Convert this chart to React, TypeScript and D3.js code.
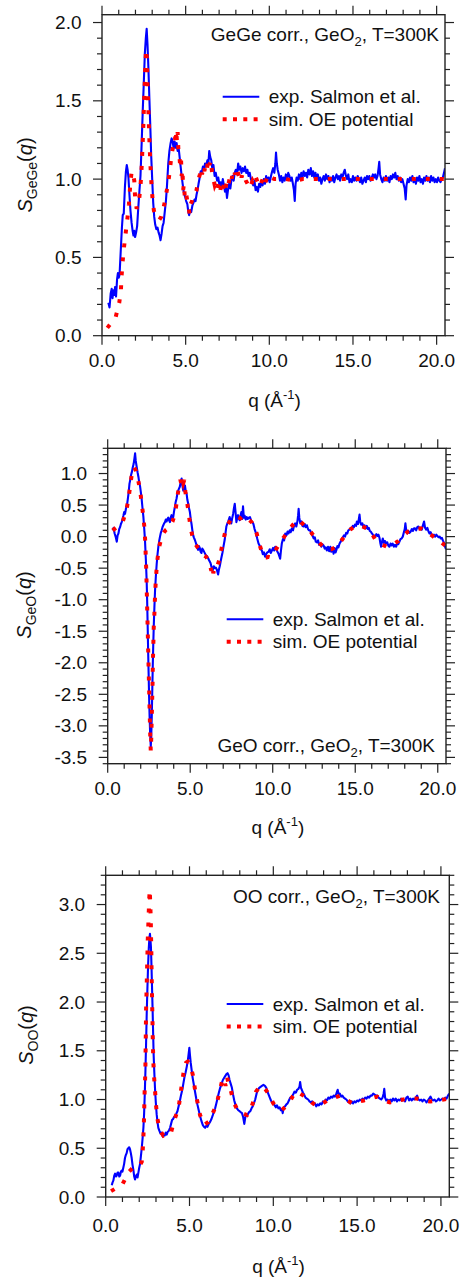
import React from 'react';
import * as d3 from 'd3';

// ---- data ----
const geGeExp = [
  [0.38,0.21],[0.45,0.18],[0.52,0.27],[0.58,0.30],[0.63,0.24],[0.68,0.29],[0.74,0.26],[0.78,0.31],[0.84,0.25],[0.9,0.36],
  [0.95,0.40],[1.0,0.37],[1.05,0.39],[1.11,0.52],[1.19,0.69],[1.24,0.77],[1.3,0.78],[1.37,0.95],[1.43,1.05],[1.48,1.09],
  [1.53,1.06],[1.58,1.01],[1.64,0.90],[1.7,0.80],[1.77,0.72],[1.83,0.67],[1.88,0.64],[1.93,0.67],[1.98,0.63],[2.04,0.66],
  [2.1,0.70],[2.17,0.82],[2.24,0.93],[2.3,1.02],[2.37,1.23],[2.44,1.45],[2.5,1.62],[2.56,1.80],[2.62,1.90],[2.67,1.96],
  [2.72,1.86],[2.77,1.72],[2.83,1.52],[2.88,1.36],[2.94,1.15],[3.0,1.00],[3.06,0.85],[3.12,0.76],[3.18,0.71],[3.25,0.68],
  [3.32,0.69],[3.38,0.66],[3.44,0.64],[3.5,0.61],[3.56,0.65],[3.62,0.70],[3.68,0.72],[3.76,0.80],[3.82,0.86],[3.88,0.95],
  [3.96,1.10],[4.03,1.18],[4.1,1.23],[4.16,1.26],[4.22,1.24],[4.28,1.20],[4.34,1.24],[4.4,1.20],[4.46,1.23],[4.52,1.18],
  [4.58,1.20],[4.64,1.14],[4.7,1.08],[4.76,1.02],[4.82,0.97],[4.88,0.92],[4.96,0.89],[5.03,0.86],[5.1,0.84],[5.16,0.79],
  [5.21,0.77],[5.27,0.80],[5.33,0.79],[5.4,0.83],[5.47,0.85],[5.53,0.87],[5.59,0.86],[5.65,0.90],[5.71,0.93],[5.77,0.97],
  [5.84,1.01],[5.9,1.05],[5.96,1.04],[6.03,1.08],[6.09,1.06],[6.16,1.10],[6.22,1.08],[6.3,1.12],[6.36,1.10],[6.41,1.18],
  [6.47,1.14],[6.53,1.12],[6.6,1.06],[6.66,1.09],[6.73,1.02],[6.8,1.04],[6.88,0.99],[6.95,1.01],[7.02,0.96],[7.09,0.98],
  [7.16,0.95],[7.22,1.00],[7.29,0.96],[7.35,0.92],[7.41,0.95],[7.47,0.88],[7.53,0.93],[7.6,0.97],[7.67,0.94],[7.74,1.00],
  [7.8,1.02],[7.87,0.99],[7.93,1.04],[8.0,1.06],[8.07,1.03],[8.14,1.10],[8.2,1.06],[8.27,1.08],[8.34,1.04],[8.41,1.07],
  [8.48,1.05],[8.55,1.08],[8.62,1.04],[8.69,1.06],[8.76,1.02],[8.83,1.04],[8.9,1.00],[8.97,0.98],[9.04,0.96],[9.11,0.99],
  [9.18,0.93],[9.25,0.95],[9.32,0.92],[9.39,0.97],[9.46,0.95],[9.53,0.99],[9.6,0.96],[9.67,1.00],[9.74,0.97],[9.81,1.02],
  [9.88,0.99],[9.95,1.01],[10.02,0.98],[10.1,1.02],[10.17,1.05],[10.23,1.07],[10.3,1.04],[10.36,1.10],[10.4,1.17],[10.45,1.10],
  [10.5,1.06],[10.57,1.03],[10.64,0.99],[10.71,1.02],[10.78,0.98],[10.85,1.01],[10.92,0.99],[10.99,1.03],[11.06,1.00],[11.13,1.04],
  [11.2,1.02],[11.27,0.99],[11.34,1.01],[11.41,0.97],[11.47,0.93],[11.52,0.86],[11.57,0.97],[11.63,1.01],[11.7,0.99],[11.77,1.03],
  [11.84,1.00],[11.91,1.04],[11.98,1.01],[12.05,1.05],[12.12,1.02],[12.19,1.04],[12.26,1.01],[12.33,1.06],[12.41,1.03],[12.48,1.07],
  [12.55,1.02],[12.62,1.05],[12.69,1.01],[12.76,1.04],[12.83,1.00],[12.9,1.03],[12.97,0.99],[13.04,1.01],[13.11,0.97],[13.18,1.00],
  [13.25,1.02],[13.32,0.99],[13.39,1.03],[13.46,1.00],[13.53,1.02],[13.6,0.98],[13.67,1.01],[13.74,0.99],[13.81,1.02],[13.88,0.98],
  [13.95,1.01],[14.02,1.03],[14.09,1.00],[14.16,1.02],[14.23,0.99],[14.3,1.03],[14.37,1.01],[14.44,1.04],[14.51,1.06],[14.58,1.02],
  [14.65,1.00],[14.72,1.03],[14.79,0.98],[14.86,1.00],[14.93,0.98],[15.0,1.02],[15.07,0.99],[15.14,1.01],[15.21,0.99],[15.28,1.02],
  [15.35,1.00],[15.42,0.98],[15.49,1.01],[15.56,0.97],[15.63,0.99],[15.7,1.01],[15.77,0.98],[15.84,1.02],[15.91,1.00],[15.98,1.02],
  [16.05,0.99],[16.12,1.01],[16.19,1.03],[16.26,1.01],[16.33,1.03],[16.4,1.00],[16.47,1.02],[16.53,1.07],[16.57,1.11],[16.62,1.03],
  [16.69,1.00],[16.76,0.98],[16.83,1.01],[16.9,0.99],[16.97,1.02],[17.04,0.99],[17.11,1.01],[17.18,0.98],[17.25,1.02],[17.32,1.00],
  [17.39,1.03],[17.46,1.01],[17.53,1.04],[17.6,1.00],[17.67,1.02],[17.74,0.99],[17.81,1.01],[17.88,0.98],[17.95,1.00],[18.02,0.97],
  [18.09,0.94],[18.15,0.87],[18.2,0.96],[18.27,1.00],[18.34,0.98],[18.41,1.01],[18.48,0.99],[18.55,1.02],[18.62,0.98],[18.69,1.00],
  [18.76,0.97],[18.83,1.01],[18.9,0.99],[18.97,1.02],[19.04,0.98],[19.11,1.00],[19.18,0.97],[19.25,1.01],[19.32,0.99],[19.39,1.02],
  [19.46,0.99],[19.53,1.01],[19.6,0.98],[19.67,1.02],[19.74,0.99],[19.81,1.01],[19.88,0.98],[19.95,1.00],[20.02,0.98],[20.09,1.01],
  [20.16,0.99],[20.23,0.98],[20.3,1.00],[20.37,1.01],[20.44,1.04],[20.5,1.07]
];
const geGeSim = [
  [0.32,0.05],[0.82,0.12],[1.03,0.21],[1.13,0.29],[1.17,0.38],[1.23,0.47],[1.31,0.56],[1.41,0.65],[1.51,0.74],[1.61,0.84],
  [1.68,0.95],[1.77,1.05],[1.85,1.03],[1.93,0.99],[1.97,0.90],[2.07,0.81],[2.16,0.84],[2.23,0.88],[2.31,0.97],[2.37,1.08],
  [2.42,1.20],[2.47,1.34],[2.51,1.48],[2.55,1.60],[2.59,1.72],[2.63,1.83],[2.67,1.80],[2.7,1.70],[2.73,1.58],[2.77,1.45],
  [2.81,1.32],[2.85,1.20],[2.9,1.08],[2.96,0.96],[3.03,0.86],[3.1,0.80],[3.2,0.76],[3.3,0.75],[3.42,0.74],[3.55,0.76],
  [3.65,0.80],[3.76,0.86],[3.86,0.92],[3.96,0.98],[4.05,1.05],[4.12,1.12],[4.2,1.18],[4.28,1.22],[4.36,1.27],[4.4,1.22],
  [4.44,1.31],[4.48,1.24],[4.52,1.30],[4.56,1.20],[4.62,1.16],[4.66,1.10],[4.72,1.14],[4.76,1.02],[4.81,1.06],[4.85,0.93],
  [4.9,0.97],[4.95,0.88],[5.02,0.91],[5.1,0.86],[5.18,0.82],[5.23,0.78],[5.3,0.84],[5.38,0.86],[5.45,0.90],[5.55,0.91],
  [5.65,0.93],[5.75,0.99],[5.85,1.03],[5.92,1.07],[5.98,1.03],[6.05,1.08],[6.12,1.05],[6.2,1.10],[6.28,1.07],[6.35,1.13],
  [6.42,1.09],[6.5,1.12],[6.58,1.04],[6.66,1.00],[6.74,0.96],[6.82,0.98],[6.9,0.94],[6.98,0.97],[7.06,0.92],[7.14,0.97],
  [7.22,0.93],[7.3,0.98],[7.38,0.94],[7.46,0.99],[7.54,0.96],[7.62,1.00],[7.7,0.97],[7.78,1.02],[7.86,0.99],[7.94,1.04],
  [8.02,1.01],[8.1,1.05],[8.18,1.02],[8.26,1.05],[8.34,1.01],[8.42,1.04],[8.5,1.02],[8.6,0.99],[8.7,0.97],[8.8,0.99],
  [8.9,0.96],[9.0,0.99],[9.1,0.97],[9.2,1.01],[9.3,0.98],[9.4,1.00],[9.5,0.97],[9.6,1.00],[9.7,0.96],[9.8,0.99],
  [9.9,1.02],[10.0,1.00],[10.1,1.01],[10.3,1.00],[10.6,1.00],[11.0,1.00],[11.5,0.99],[12.0,1.00],[12.5,1.00],[13.0,1.00],
  [13.5,1.00],[14.0,1.00],[14.5,1.00],[15.0,1.00],[15.5,1.00],[16.0,1.00],[16.5,1.00],[17.0,1.00],[17.5,1.00],[18.0,1.00],
  [18.5,1.00],[19.0,1.00],[19.5,1.00],[20.0,1.00],[20.5,1.00]
];
const geOExp = [
  [0.30,0.10],[0.36,0.14],[0.42,0.05],[0.48,0.00],[0.55,-0.08],[0.6,0.02],[0.65,0.05],[0.7,0.12],[0.75,0.15],[0.8,0.20],
  [0.85,0.23],[0.9,0.28],[0.95,0.33],[1.0,0.39],[1.05,0.36],[1.11,0.45],[1.17,0.50],[1.22,0.60],[1.27,0.70],[1.32,0.84],
  [1.37,0.90],[1.42,0.98],[1.47,1.03],[1.52,1.10],[1.57,1.15],[1.62,1.24],[1.66,1.32],[1.7,1.20],[1.76,1.10],[1.81,1.02],
  [1.86,0.95],[1.91,0.86],[1.96,0.80],[2.01,0.70],[2.06,0.59],[2.11,0.45],[2.16,0.32],[2.21,0.14],[2.26,-0.06],[2.31,-0.35],
  [2.36,-0.69],[2.39,-1.0],[2.42,-1.38],[2.45,-1.80],[2.48,-2.17],[2.51,-2.55],[2.54,-2.86],[2.57,-3.10],[2.61,-3.33],[2.64,-3.15],
  [2.67,-2.86],[2.7,-2.45],[2.73,-2.06],[2.76,-1.72],[2.79,-1.43],[2.83,-1.12],[2.87,-0.85],[2.92,-0.62],[2.97,-0.43],[3.02,-0.28],
  [3.07,-0.16],[3.12,-0.07],[3.17,0.00],[3.22,0.06],[3.27,0.10],[3.32,0.15],[3.37,0.18],[3.42,0.21],[3.47,0.23],[3.52,0.27],
  [3.57,0.24],[3.62,0.28],[3.67,0.30],[3.72,0.26],[3.77,0.23],[3.82,0.30],[3.87,0.34],[3.92,0.29],[3.97,0.31],[4.02,0.40],
  [4.07,0.47],[4.12,0.55],[4.17,0.60],[4.22,0.68],[4.27,0.73],[4.32,0.76],[4.37,0.79],[4.42,0.86],[4.48,0.92],[4.53,0.80],
  [4.58,0.73],[4.63,0.82],[4.68,0.81],[4.73,0.72],[4.78,0.68],[4.83,0.58],[4.88,0.52],[4.93,0.45],[4.98,0.39],[5.03,0.28],
  [5.08,0.20],[5.13,0.10],[5.18,0.02],[5.23,-0.02],[5.28,-0.05],[5.33,-0.09],[5.38,-0.13],[5.43,-0.17],[5.48,-0.21],[5.53,-0.15],
  [5.58,-0.18],[5.63,-0.24],[5.68,-0.26],[5.73,-0.19],[5.78,-0.21],[5.86,-0.25],[5.94,-0.29],[6.01,-0.31],[6.08,-0.34],[6.15,-0.38],
  [6.23,-0.42],[6.29,-0.48],[6.35,-0.55],[6.39,-0.50],[6.43,-0.47],[6.49,-0.50],[6.55,-0.49],[6.62,-0.53],[6.69,-0.60],[6.74,-0.52],
  [6.79,-0.47],[6.87,-0.36],[6.95,-0.26],[7.02,-0.15],[7.09,-0.05],[7.14,0.06],[7.19,0.16],[7.24,0.20],[7.29,0.23],[7.34,0.27],
  [7.39,0.31],[7.44,0.26],[7.49,0.21],[7.55,0.30],[7.6,0.36],[7.65,0.45],[7.7,0.52],[7.75,0.38],[7.8,0.23],[7.85,0.30],
  [7.9,0.34],[7.95,0.28],[8.0,0.26],[8.05,0.33],[8.1,0.39],[8.15,0.28],[8.2,0.48],[8.25,0.30],[8.3,0.33],[8.36,0.27],
  [8.42,0.31],[8.48,0.28],[8.55,0.30],[8.62,0.31],[8.7,0.25],[8.77,0.23],[8.83,0.20],[8.9,0.12],[8.99,0.05],[9.06,-0.03],
  [9.14,-0.11],[9.22,-0.15],[9.28,-0.20],[9.34,-0.22],[9.4,-0.28],[9.47,-0.25],[9.54,-0.32],[9.6,-0.28],[9.67,-0.25],[9.75,-0.24],
  [9.82,-0.20],[9.88,-0.26],[9.95,-0.22],[10.02,-0.18],[10.09,-0.22],[10.15,-0.16],[10.22,-0.20],[10.29,-0.24],[10.35,-0.27],[10.4,-0.31],
  [10.45,-0.35],[10.5,-0.22],[10.55,-0.11],[10.62,-0.04],[10.69,-0.06],[10.76,0.05],[10.83,0.02],[10.9,0.08],[10.96,0.05],[11.03,0.10],
  [11.09,0.07],[11.16,0.13],[11.23,0.10],[11.29,0.17],[11.36,0.21],[11.43,0.16],[11.5,0.25],[11.54,0.34],[11.57,0.44],[11.61,0.30],
  [11.67,0.21],[11.74,0.24],[11.8,0.17],[11.87,0.16],[11.94,0.20],[12.0,0.15],[12.07,0.18],[12.14,0.12],[12.2,0.10],[12.27,0.10],
  [12.34,0.04],[12.41,0.02],[12.48,-0.03],[12.55,-0.01],[12.61,-0.08],[12.68,-0.09],[12.75,-0.06],[12.81,-0.13],[12.88,-0.11],[12.95,-0.16],
  [13.01,-0.12],[13.08,-0.14],[13.15,-0.19],[13.21,-0.17],[13.28,-0.22],[13.35,-0.16],[13.42,-0.23],[13.49,-0.16],[13.55,-0.24],[13.62,-0.19],
  [13.69,-0.27],[13.75,-0.18],[13.81,-0.25],[13.85,-0.22],[13.92,-0.15],[13.98,-0.17],[14.05,-0.11],[14.12,-0.08],[14.18,-0.04],[14.25,-0.01],
  [14.32,0.02],[14.38,0.00],[14.45,0.06],[14.52,0.05],[14.58,0.10],[14.65,0.11],[14.72,0.14],[14.78,0.12],[14.85,0.17],[14.92,0.15],
  [14.98,0.19],[15.05,0.17],[15.1,0.24],[15.17,0.20],[15.22,0.28],[15.26,0.35],[15.3,0.24],[15.36,0.19],[15.43,0.21],[15.5,0.15],
  [15.56,0.18],[15.63,0.13],[15.7,0.17],[15.76,0.12],[15.82,0.14],[15.88,0.09],[15.94,0.08],[16.01,0.05],[16.07,0.03],[16.14,0.01],
  [16.21,0.00],[16.28,0.04],[16.35,0.01],[16.41,0.03],[16.47,-0.02],[16.52,-0.10],[16.57,-0.16],[16.62,-0.08],[16.67,-0.03],[16.74,-0.10],
  [16.8,-0.07],[16.87,-0.11],[16.94,-0.09],[17.0,-0.14],[17.07,-0.16],[17.14,-0.11],[17.2,-0.14],[17.27,-0.11],[17.34,-0.16],[17.41,-0.13],
  [17.48,-0.16],[17.55,-0.10],[17.61,-0.12],[17.68,-0.08],[17.74,-0.04],[17.81,-0.03],[17.88,0.00],[17.94,0.06],[18.0,0.12],[18.04,0.21],
  [18.09,0.10],[18.16,0.05],[18.22,0.09],[18.29,0.06],[18.36,0.08],[18.43,0.12],[18.5,0.09],[18.56,0.13],[18.62,0.13],[18.69,0.10],
  [18.76,0.15],[18.83,0.16],[18.9,0.12],[18.97,0.14],[19.03,0.11],[19.1,0.18],[19.17,0.24],[19.23,0.14],[19.3,0.11],[19.37,0.14],
  [19.44,0.08],[19.5,0.05],[19.57,0.07],[19.64,0.02],[19.7,0.00],[19.77,0.03],[19.84,0.00],[19.91,0.03],[19.98,0.01],[20.05,-0.01],
  [20.12,0.00],[20.18,-0.03],[20.25,-0.02],[20.31,-0.06],[20.38,-0.10],[20.44,-0.16],[20.5,-0.20]
];
const geOSim = [
  [0.30,0.10],[0.6,0.16],[0.92,0.24],[1.15,0.44],[1.29,0.66],[1.39,0.86],[1.51,1.08],[1.6,1.10],[1.7,1.05],[1.8,0.96],
  [1.96,0.74],[2.06,0.53],[2.16,0.32],[2.24,0.10],[2.28,-0.11],[2.31,-0.34],[2.34,-0.56],[2.36,-0.78],[2.38,-1.00],[2.40,-1.22],
  [2.42,-1.43],[2.44,-1.65],[2.46,-1.87],[2.48,-2.09],[2.50,-2.30],[2.52,-2.52],[2.54,-2.74],[2.56,-2.96],[2.58,-3.17],[2.61,-3.40],
  [2.64,-3.19],[2.66,-2.97],[2.68,-2.75],[2.70,-2.53],[2.72,-2.31],[2.73,-2.10],[2.75,-1.87],[2.77,-1.66],[2.79,-1.44],[2.83,-1.22],
  [2.86,-1.00],[2.9,-0.77],[2.95,-0.56],[3.02,-0.35],[3.12,-0.16],[3.25,-0.03],[3.37,0.05],[3.5,0.10],[3.65,0.13],[3.8,0.18],
  [3.93,0.24],[4.05,0.34],[4.13,0.45],[4.23,0.64],[4.32,0.80],[4.4,0.90],[4.46,0.84],[4.52,0.92],[4.58,0.85],[4.64,0.90],
  [4.7,0.72],[4.78,0.60],[4.86,0.46],[4.94,0.30],[5.02,0.15],[5.12,0.02],[5.22,-0.06],[5.32,-0.12],[5.42,-0.16],[5.52,-0.20],
  [5.62,-0.22],[5.72,-0.26],[5.85,-0.30],[5.97,-0.32],[6.1,-0.38],[6.2,-0.46],[6.28,-0.54],[6.34,-0.46],[6.4,-0.58],[6.48,-0.50],
  [6.55,-0.52],[6.65,-0.46],[6.75,-0.38],[6.85,-0.25],[6.97,-0.10],[7.1,0.05],[7.22,0.16],[7.37,0.23],[7.5,0.28],[7.6,0.31],
  [7.75,0.30],[7.9,0.31],[8.05,0.29],[8.2,0.32],[8.3,0.28],[8.42,0.29],[8.55,0.27],[8.72,0.23],[8.85,0.15],[9.03,0.05],
  [9.13,-0.06],[9.23,-0.15],[9.35,-0.25],[9.48,-0.33],[9.62,-0.33],[9.75,-0.32],[9.89,-0.33],[10.05,-0.26],[10.3,-0.16],[10.5,-0.07],
  [10.7,0.00],[10.85,0.06],[11.0,0.11],[11.2,0.18],[11.4,0.24],[11.57,0.27],[11.75,0.22],[11.95,0.17],[12.17,0.13],[12.4,0.04],
  [12.65,-0.04],[12.9,-0.12],[13.2,-0.20],[13.55,-0.20],[13.95,-0.15],[14.2,-0.05],[14.4,0.02],[14.7,0.11],[15.0,0.17],[15.35,0.17],
  [15.7,0.13],[16.0,0.05],[16.2,-0.04],[16.5,-0.11],[16.9,-0.16],[17.25,-0.13],[17.62,-0.07],[17.9,0.01],[18.2,0.08],[18.6,0.12],
  [18.97,0.13],[19.3,0.08],[19.68,0.01],[20.0,-0.05],[20.35,-0.12],[20.5,-0.15]
];
const ooExp = [
  [0.36,0.12],[0.41,0.15],[0.46,0.17],[0.51,0.22],[0.56,0.24],[0.61,0.21],[0.66,0.22],[0.71,0.25],[0.76,0.25],[0.81,0.21],
  [0.86,0.22],[0.91,0.26],[0.95,0.27],[1.0,0.26],[1.05,0.30],[1.1,0.34],[1.15,0.40],[1.2,0.43],[1.25,0.45],[1.3,0.49],
  [1.35,0.50],[1.4,0.51],[1.45,0.49],[1.5,0.45],[1.55,0.40],[1.6,0.33],[1.65,0.28],[1.7,0.21],[1.75,0.18],[1.8,0.21],
  [1.85,0.23],[1.9,0.20],[1.95,0.25],[2.0,0.30],[2.05,0.34],[2.1,0.42],[2.15,0.50],[2.2,0.60],[2.25,0.71],[2.29,0.85],
  [2.33,1.05],[2.37,1.29],[2.41,1.58],[2.45,1.90],[2.49,2.15],[2.53,2.38],[2.57,2.55],[2.61,2.66],[2.64,2.70],[2.67,2.64],
  [2.7,2.56],[2.73,2.38],[2.76,2.18],[2.8,1.91],[2.83,1.68],[2.86,1.46],[2.9,1.28],[2.94,1.12],[2.99,0.97],[3.04,0.85],
  [3.09,0.77],[3.14,0.71],[3.2,0.68],[3.27,0.65],[3.34,0.66],[3.4,0.62],[3.46,0.64],[3.52,0.63],[3.58,0.66],[3.64,0.64],
  [3.7,0.67],[3.77,0.68],[3.84,0.71],[3.9,0.75],[3.96,0.79],[4.02,0.80],[4.08,0.82],[4.14,0.83],[4.2,0.85],[4.28,0.88],
  [4.35,0.93],[4.43,0.99],[4.5,1.05],[4.57,1.10],[4.64,1.17],[4.7,1.23],[4.77,1.28],[4.84,1.34],[4.9,1.40],[4.95,1.47],
  [4.99,1.53],[5.03,1.45],[5.07,1.38],[5.13,1.30],[5.19,1.22],[5.26,1.15],[5.33,1.08],[5.4,1.01],[5.47,0.95],[5.55,0.89],
  [5.63,0.83],[5.71,0.78],[5.79,0.74],[5.86,0.72],[5.93,0.71],[6.0,0.73],[6.07,0.72],[6.15,0.75],[6.23,0.77],[6.31,0.80],
  [6.39,0.84],[6.46,0.88],[6.53,0.91],[6.6,0.96],[6.67,1.01],[6.75,1.07],[6.83,1.12],[6.91,1.16],[6.99,1.20],[7.06,1.22],
  [7.13,1.24],[7.2,1.26],[7.27,1.27],[7.33,1.25],[7.39,1.20],[7.46,1.16],[7.53,1.12],[7.6,1.05],[7.67,0.99],[7.75,0.94],
  [7.83,0.91],[7.91,0.89],[7.99,0.88],[8.06,0.87],[8.13,0.86],[8.2,0.82],[8.27,0.75],[8.33,0.82],[8.4,0.84],[8.48,0.85],
  [8.55,0.87],[8.63,0.88],[8.7,0.91],[8.77,0.93],[8.84,0.96],[8.92,1.00],[9.0,1.06],[9.08,1.10],[9.16,1.12],[9.24,1.13],
  [9.32,1.14],[9.41,1.15],[9.5,1.14],[9.58,1.12],[9.65,1.08],[9.72,1.05],[9.79,1.02],[9.86,0.99],[9.93,0.97],[10.0,0.96],
  [10.08,0.94],[10.15,0.92],[10.22,0.94],[10.3,0.91],[10.38,0.92],[10.45,0.89],[10.52,0.90],[10.56,0.86],[10.62,0.92],[10.7,0.93],
  [10.78,0.95],[10.85,0.96],[10.93,0.99],[11.01,1.02],[11.1,1.03],[11.18,1.05],[11.26,1.08],[11.34,1.07],[11.42,1.10],[11.5,1.11],
  [11.56,1.13],[11.6,1.18],[11.65,1.12],[11.7,1.10],[11.77,1.07],[11.84,1.05],[11.92,1.02],[12.0,1.01],[12.08,1.00],[12.16,0.98],
  [12.24,0.97],[12.32,0.98],[12.4,0.95],[12.48,0.96],[12.56,0.93],[12.64,0.95],[12.72,0.94],[12.8,0.96],[12.88,0.95],[12.96,0.98],
  [13.04,0.97],[13.12,1.00],[13.2,0.99],[13.28,1.02],[13.36,1.01],[13.44,1.03],[13.52,1.02],[13.6,1.04],[13.68,1.03],[13.76,1.06],
  [13.84,1.10],[13.9,1.05],[13.97,1.06],[14.05,1.03],[14.12,1.04],[14.2,1.02],[14.28,1.01],[14.36,1.00],[14.44,0.98],[14.52,0.97],
  [14.6,0.96],[14.68,0.98],[14.76,0.96],[14.84,0.98],[14.92,0.97],[15.0,0.99],[15.08,0.98],[15.16,1.00],[15.24,0.99],[15.32,1.01],
  [15.4,1.00],[15.48,1.02],[15.56,1.01],[15.64,1.03],[15.72,1.02],[15.8,1.04],[15.88,1.04],[15.96,1.06],[16.04,1.05],[16.12,1.04],
  [16.2,1.04],[16.28,1.02],[16.36,1.01],[16.44,1.00],[16.52,1.02],[16.58,1.06],[16.62,1.11],[16.67,1.02],[16.74,0.99],[16.82,1.00],
  [16.9,0.98],[16.98,1.00],[17.06,0.98],[17.14,1.01],[17.22,0.99],[17.3,1.01],[17.38,0.98],[17.46,1.00],[17.54,0.99],[17.62,1.01],
  [17.7,0.99],[17.78,1.00],[17.86,0.98],[17.94,1.02],[18.02,1.03],[18.1,0.99],[18.18,1.01],[18.26,0.99],[18.34,1.01],[18.42,1.00],
  [18.5,1.02],[18.58,1.04],[18.66,1.00],[18.74,0.99],[18.82,1.00],[18.9,0.98],[18.98,1.00],[19.06,0.99],[19.14,0.97],[19.22,0.99],
  [19.3,1.01],[19.38,1.03],[19.46,1.00],[19.54,0.99],[19.62,1.00],[19.7,0.98],[19.78,0.99],[19.86,1.01],[19.94,0.99],[20.02,1.00],
  [20.1,1.01],[20.18,1.00],[20.26,1.02],[20.34,1.01],[20.42,1.04],[20.5,1.06]
];
const ooSim = [
  [0.32,0.06],[1.0,0.13],[1.39,0.26],[1.75,0.32],[2.05,0.33],[2.15,0.36],[2.21,0.48],[2.25,0.62],[2.28,0.77],[2.3,0.91],
  [2.32,1.06],[2.35,1.20],[2.37,1.35],[2.38,1.49],[2.39,1.64],[2.40,1.78],[2.41,1.92],[2.43,2.06],[2.45,2.20],[2.47,2.35],
  [2.49,2.49],[2.51,2.64],[2.54,2.78],[2.57,2.93],[2.60,3.07],[2.63,3.15],[2.66,3.00],[2.69,2.85],[2.70,2.71],[2.72,2.56],
  [2.73,2.42],[2.74,2.27],[2.76,2.13],[2.77,1.98],[2.79,1.84],[2.80,1.69],[2.82,1.54],[2.84,1.40],[2.88,1.25],[2.94,1.10],
  [3.0,0.95],[3.07,0.82],[3.21,0.69],[3.44,0.63],[3.64,0.65],[3.88,0.65],[4.08,0.78],[4.24,0.86],[4.34,0.90],[4.44,1.03],
  [4.54,1.15],[4.64,1.27],[4.72,1.33],[4.8,1.38],[4.9,1.39],[5.0,1.37],[5.1,1.32],[5.2,1.25],[5.33,1.10],[5.49,0.96],
  [5.63,0.84],[5.87,0.74],[6.13,0.77],[6.39,0.86],[6.63,0.96],[6.79,1.08],[6.93,1.18],[7.05,1.22],[7.15,1.14],[7.23,1.24],
  [7.33,1.16],[7.43,1.12],[7.55,1.03],[7.7,0.95],[7.9,0.88],[8.13,0.86],[8.43,0.84],[8.6,0.88],[8.77,0.96],[8.97,1.08],
  [9.17,1.13],[9.37,1.14],[9.55,1.10],[9.71,1.06],[10.0,0.96],[10.25,0.91],[10.5,0.89],[10.75,0.93],[10.96,0.97],[11.15,1.03],
  [11.36,1.08],[11.6,1.06],[12.0,1.02],[12.3,0.97],[12.6,0.93],[12.95,0.96],[13.3,1.00],[13.65,1.02],[14.0,1.04],[14.35,1.00],
  [14.7,0.96],[15.05,0.98],[15.4,0.99],[15.8,1.01],[16.2,1.03],[16.6,0.99],[16.96,0.97],[17.35,0.99],[17.76,1.00],[18.15,1.01],
  [18.56,1.01],[18.96,0.99],[19.36,0.98],[19.76,0.99],[20.16,1.00],[20.5,1.01]
];

const qDomain = [0, 20.5];
const qMajorTicks = [0, 5, 10, 15, 20];
const geGeYTicks = [0, 0.5, 1.0, 1.5, 2.0];
const geOYTicks = [-3.5, -3.0, -2.5, -2.0, -1.5, -1.0, -0.5, 0, 0.5, 1.0];
const ooYTicks = [0, 0.5, 1.0, 1.5, 2.0, 2.5, 3.0];
const legendLabels = ['exp. Salmon et al.', 'sim. OE potential'];
const pairNames = ['GeGe', 'GeO', 'OO'];

const FONT = "'Liberation Sans', Arial, Helvetica, sans-serif";
const BLUE = '#0000ff';
const RED = '#ff0000';

const panels = [
  { name: pairNames[0], exp: geGeExp, sim: geGeSim, yDomain: [0, 2.05], yTicks: geGeYTicks,
    left: 102, right: 445, top: 14.7, bottom: 335.7,
    noteX: 439, noteY: 40.5, legX: 222.7, legY: 96.7, tickLabelY: 366.7, titleY: 406.5,
    yLabX: 32, yLabY: 175 },
  { name: pairNames[1], exp: geOExp, sim: geOSim, yDomain: [-3.6, 1.4], yTicks: geOYTicks,
    left: 107.7, right: 446, top: 448.3, bottom: 763.7,
    noteX: 435, noteY: 751.5, legX: 226.7, legY: 619.3, tickLabelY: 795, titleY: 834,
    yLabX: 31, yLabY: 605 },
  { name: pairNames[2], exp: ooExp, sim: ooSim, yDomain: [0, 3.3], yTicks: ooYTicks,
    left: 105.7, right: 449.3, top: 875.3, bottom: 1197,
    noteX: 440, noteY: 903.3, legX: 226.7, legY: 1004, tickLabelY: 1231.5, titleY: 1273,
    yLabX: 33, yLabY: 1035 },
];

function Panel({ p, idx }: { p: any; idx: number }) {
  const x = d3.scaleLinear().domain(qDomain).range([p.left, p.right]);
  const y = d3.scaleLinear().domain(p.yDomain).range([p.bottom, p.top]);
  const line = d3.line<number[]>().x(d => x(d[0])).y(d => y(d[1]));
  const yMinor = d3.range(Math.ceil(p.yDomain[0] * 10), Math.floor(p.yDomain[1] * 10) + 1).map(i => i / 10);
  const xMinor = d3.range(0, 21);
  const isMajorY = (v: number) => p.yTicks.some((t: number) => Math.abs(t - v) < 1e-6);
  const isMajorX = (v: number) => qMajorTicks.includes(v);
  const clipId = 'clip' + idx;
  const tickColor = '#222';

  return (
    <g fontFamily={FONT}>
      <defs>
        <clipPath id={clipId}>
          <rect x={p.left} y={p.top} width={p.right - p.left} height={p.bottom - p.top} />
        </clipPath>
      </defs>

      {/* ticks on all four sides, outward */}
      {yMinor.map(v => {
        const len = isMajorY(v) ? 9 : 5;
        return (
          <g key={'y' + v} stroke={tickColor} strokeWidth={1.2}>
            <line x1={p.left} x2={p.left - len} y1={y(v)} y2={y(v)} />
            <line x1={p.right} x2={p.right + len} y1={y(v)} y2={y(v)} />
          </g>
        );
      })}
      {xMinor.map(v => {
        const len = isMajorX(v) ? 9 : 5;
        return (
          <g key={'x' + v} stroke={tickColor} strokeWidth={1.2}>
            <line x1={x(v)} x2={x(v)} y1={p.bottom} y2={p.bottom + len} />
            <line x1={x(v)} x2={x(v)} y1={p.top} y2={p.top - len} />
          </g>
        );
      })}

      {/* data */}
      <g clipPath={`url(#${clipId})`}>
        <path d={line(p.exp) || ''} fill="none" stroke={BLUE} strokeWidth={2.1} strokeLinejoin="round" />
        <path d={line(p.sim) || ''} fill="none" stroke={RED} strokeWidth={4} strokeDasharray="4 10" />
      </g>

      <rect x={p.left} y={p.top} width={p.right - p.left} height={p.bottom - p.top}
        fill="none" stroke={tickColor} strokeWidth={1.4} />

      {/* tick labels */}
      {p.yTicks.map((t: number) => (
        <text key={'yl' + t} x={p.left - 20.5} y={y(t)} textAnchor="end" dominantBaseline="central"
          fontSize={19} fill="#111">{t.toFixed(1)}</text>
      ))}
      {qMajorTicks.map(t => (
        <text key={'xl' + t} x={x(t)} y={p.tickLabelY} textAnchor="middle" fontSize={19} fill="#111">
          {t.toFixed(1)}
        </text>
      ))}

      {/* axis titles */}
      <text x={(p.left + p.right) / 2 + 1} y={p.titleY} textAnchor="middle" fontSize={19} fill="#111">
        q (Å<tspan fontSize={13} dy={-8}>-1</tspan><tspan dy={8}>)</tspan>
      </text>
      <text transform={`translate(${p.yLabX},${p.yLabY}) rotate(-90)`} textAnchor="middle" fontSize={20} fill="#111">
        <tspan fontStyle="italic">S</tspan>
        <tspan fontSize={14} dy={5}>{p.name}</tspan>
        <tspan dy={-5}>(</tspan>
        <tspan fontStyle="italic">q</tspan>
        <tspan>)</tspan>
      </text>

      {/* annotation */}
      <text x={p.noteX} y={p.noteY} textAnchor="end" fontSize={19} fill="#111">
        {p.name} corr., GeO<tspan fontSize={13} dy={5}>2</tspan><tspan dy={-5}>, T=300K</tspan>
      </text>

      {/* legend */}
      <line x1={p.legX} x2={p.legX + 36.6} y1={p.legY} y2={p.legY} stroke={BLUE} strokeWidth={2} />
      <text x={p.legX + 46} y={p.legY} dominantBaseline="central" fontSize={19} fill="#111">{legendLabels[0]}</text>
      <line x1={p.legX} x2={p.legX + 36.6} y1={p.legY + 22.5} y2={p.legY + 22.5} stroke={RED} strokeWidth={4}
        strokeDasharray="4 6.3" />
      <text x={p.legX + 46} y={p.legY + 22.5} dominantBaseline="central" fontSize={19} fill="#111">{legendLabels[1]}</text>
    </g>
  );
}

export default function App() {
  return (
    <svg width={462} height={1279} style={{ position: 'absolute', left: 0, top: 0, background: '#fff' }}>
      {panels.map((p, i) => <Panel key={p.name} p={p} idx={i} />)}
    </svg>
  );
}
